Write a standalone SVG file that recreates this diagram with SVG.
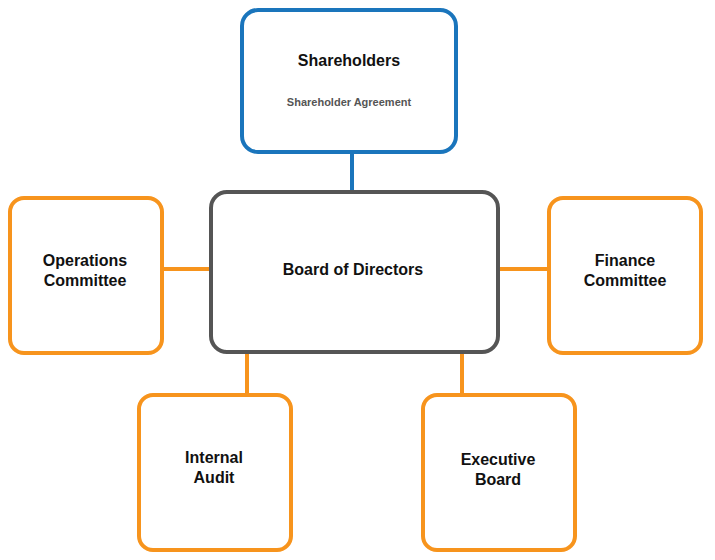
<svg xmlns="http://www.w3.org/2000/svg" width="715" height="560" viewBox="0 0 715 560">
<style>
.o{fill:#fff;stroke:#f7941d;stroke-width:4}
.t{font-family:"Liberation Sans",Arial,sans-serif;font-weight:bold;font-size:16px;fill:#111;text-anchor:middle}
.s{font-family:"Liberation Sans",Arial,sans-serif;font-weight:bold;font-size:11px;fill:#555;text-anchor:middle}
</style>
<rect width="715" height="560" fill="#fff"/>
<g id="connectors" fill="none" stroke-width="4">
<line x1="352" y1="152" x2="352" y2="192" stroke="#1a75bc"/>
<line x1="162" y1="269" x2="211" y2="269" stroke="#f7941d"/>
<line x1="498" y1="269" x2="549" y2="269" stroke="#f7941d"/>
<line x1="247" y1="352" x2="247" y2="395" stroke="#f7941d"/>
<line x1="462" y1="352" x2="462" y2="395" stroke="#f7941d"/>
</g>
<g id="shareholders"><rect x="242" y="10" width="214" height="142" rx="16" fill="#fff" stroke="#1a75bc" stroke-width="4"/>
<text class="t" x="349" y="66">Shareholders</text><text class="s" x="349" y="106">Shareholder Agreement</text></g>
<g id="board"><rect x="211" y="192" width="287" height="160" rx="16" fill="#fff" stroke="#555" stroke-width="4"/>
<text class="t" x="353" y="275">Board of Directors</text></g>
<g id="operations"><rect class="o" x="10" y="198" width="152" height="155" rx="14"/>
<text class="t" x="85" y="266">Operations</text><text class="t" x="85" y="286">Committee</text></g>
<g id="finance"><rect class="o" x="549" y="198" width="152" height="155" rx="14"/>
<text class="t" x="625" y="266">Finance</text><text class="t" x="625" y="286">Committee</text></g>
<g id="audit"><rect class="o" x="139" y="395" width="152" height="155" rx="14"/>
<text class="t" x="214" y="463">Internal</text><text class="t" x="214" y="483">Audit</text></g>
<g id="executive"><rect class="o" x="423" y="395" width="152" height="155" rx="14"/>
<text class="t" x="498" y="465">Executive</text><text class="t" x="498" y="485">Board</text></g>
</svg>
